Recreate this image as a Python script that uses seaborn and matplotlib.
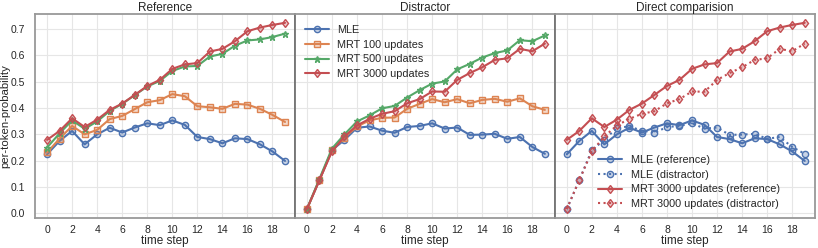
import numpy as np
import pandas as pd
import matplotlib
matplotlib.use("Agg")
import matplotlib.pyplot as plt
import seaborn as sns

steps = list(range(20))

# per-token probability, "Reference" setting
ref_mle = [0.224, 0.275, 0.313, 0.262, 0.300, 0.325, 0.307, 0.326, 0.342, 0.335,
           0.353, 0.336, 0.290, 0.282, 0.266, 0.285, 0.282, 0.262, 0.235, 0.199]
ref_mrt100 = [0.231, 0.284, 0.332, 0.300, 0.317, 0.358, 0.370, 0.396, 0.422, 0.430,
              0.453, 0.445, 0.407, 0.403, 0.397, 0.416, 0.413, 0.397, 0.374, 0.347]
ref_mrt500 = [0.250, 0.304, 0.353, 0.321, 0.349, 0.389, 0.416, 0.449, 0.482, 0.503,
              0.541, 0.558, 0.560, 0.596, 0.606, 0.637, 0.657, 0.661, 0.670, 0.683]
ref_mrt3000 = [0.279, 0.313, 0.361, 0.328, 0.356, 0.393, 0.417, 0.450, 0.484, 0.507,
               0.549, 0.566, 0.571, 0.615, 0.625, 0.654, 0.692, 0.706, 0.716, 0.724]

# "Distractor" setting
dis_mle = [0.016, 0.126, 0.240, 0.279, 0.325, 0.330, 0.314, 0.306, 0.328, 0.332,
           0.342, 0.322, 0.326, 0.298, 0.299, 0.302, 0.283, 0.290, 0.252, 0.226]
dis_mrt100 = [0.016, 0.126, 0.240, 0.288, 0.330, 0.353, 0.363, 0.364, 0.397, 0.416,
              0.434, 0.422, 0.434, 0.418, 0.431, 0.435, 0.424, 0.437, 0.407, 0.393]
dis_mrt500 = [0.016, 0.131, 0.246, 0.300, 0.349, 0.372, 0.399, 0.408, 0.440, 0.468,
              0.493, 0.501, 0.547, 0.568, 0.592, 0.609, 0.619, 0.658, 0.654, 0.676]
dis_mrt3000 = [0.016, 0.126, 0.235, 0.292, 0.334, 0.359, 0.378, 0.388, 0.418, 0.434,
               0.463, 0.462, 0.507, 0.533, 0.555, 0.583, 0.589, 0.625, 0.616, 0.645]

labels = ["MLE", "MRT 100 updates", "MRT 500 updates", "MRT 3000 updates"]

sns.set_style("whitegrid", {"axes.edgecolor": "0.6", "grid.color": "0.9"})
plt.rcParams["font.family"] = ["Liberation Sans", "DejaVu Sans"]
pal = sns.color_palette("deep")
colors = [pal[0], pal[1], pal[2], pal[3]]
markers = ["o", "s", "*", "d"]


def draw(ax, x, y, color, marker, label, ls="-"):
    ax.plot(x, y, ls, color=color, marker=marker, markersize=4.5, lw=1.5,
            markerfacecolor=(*color, 0.3), markeredgecolor=color,
            markeredgewidth=1.0, label=label)


fig, axes = plt.subplots(1, 3, figsize=(8.18, 2.48), dpi=100, sharey=True)
plt.subplots_adjust(left=0.043, right=0.996, bottom=0.121, top=0.944, wspace=0)

for ys, ax in [((ref_mle, ref_mrt100, ref_mrt500, ref_mrt3000), axes[0]),
               ((dis_mle, dis_mrt100, dis_mrt500, dis_mrt3000), axes[1])]:
    for y, c, m, lab in zip(ys, colors, markers, labels):
        draw(ax, steps, y, c, m, lab)

axes[1].legend(loc="upper left", frameon=False, fontsize=7.8,
               bbox_to_anchor=(0.0, 0.995), labelspacing=0.45, handlelength=2.2)

draw(axes[2], steps, ref_mle, pal[0], "o", "MLE (reference)")
draw(axes[2], steps, dis_mle, pal[0], "o", "MLE (distractor)", ls=":")
draw(axes[2], steps, ref_mrt3000, pal[3], "d", "MRT 3000 updates (reference)")
draw(axes[2], steps, dis_mrt3000, pal[3], "d", "MRT 3000 updates (distractor)", ls=":")
axes[2].legend(loc="lower left", frameon=False, fontsize=7.8,
               bbox_to_anchor=(0.13, -0.005), labelspacing=0.45, handlelength=2.2)

for ax, t in zip(axes, ["Reference", "Distractor", "Direct comparision"]):
    ax.set_title(t, fontsize=8.5, pad=2)
    ax.set_xlabel("time step", fontsize=8.5, labelpad=0)
    ax.set_xticks(range(0, 20, 2))
    ax.set_xlim(-0.95, 19.8)
    ax.set_ylim(-0.018, 0.758)
    ax.set_yticks(np.arange(0, 0.71, 0.1))
    ax.tick_params(axis="x", labelsize=7.5, pad=1.5)
    ax.tick_params(axis="y", labelsize=7.5, pad=3.5)
    for s in ax.spines.values():
        s.set_linewidth(1.3)

axes[0].set_ylabel("per-token-probability", fontsize=8.2, labelpad=0.5)
for ax in axes[1:]:
    ax.spines["left"].set_color("0.45")

plt.savefig("out.png", dpi=100)
